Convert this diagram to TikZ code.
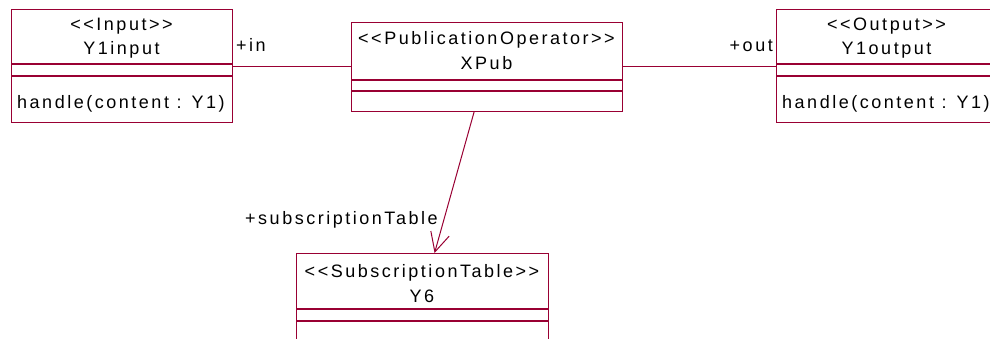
\documentclass[tikz,border=0pt]{standalone}
\usepackage{fontspec}
\setmainfont{Liberation Sans}
\newfontfamily\umlfont{Liberation Sans}[LetterSpace=14]
\usetikzlibrary{arrows.meta}
\definecolor{umlred}{RGB}{153,0,51}
\begin{document}
\begin{tikzpicture}[x=1pt,y=-1pt,
  classbox/.style={draw=umlred, line width=1.1pt, fill=white, inner sep=0pt, anchor=north west},
  sepline/.style={draw=umlred, line width=1.1pt},
  txt/.style={inner sep=0pt, font=\umlfont\fontsize{18}{22}\selectfont, text=black},
  assoc/.style={draw=umlred, line width=1pt}]
\useasboundingbox[fill=white] (0,0) rectangle (990,339);

% Y1input
\node[classbox, minimum width=221pt, minimum height=113pt] (inp) at (11,9) {};
\draw[sepline] (11,64) -- (232,64);
\draw[sepline] (11,76) -- (232,76);
\node[txt, anchor=base] (inpst) at (121.5,31) {\textless\textless Input\textgreater\textgreater};
\node[txt, anchor=base] (inpnm) at (121.5,55) {Y1input};
\node[txt, anchor=base west] (inpop) at (17,109) {handle(content : Y1)};

% XPub
\node[classbox, minimum width=271pt, minimum height=89pt] (xpub) at (351,22) {};
\draw[sepline] (351,80) -- (622,80);
\draw[sepline] (351,91) -- (622,91);
\node[txt, anchor=base] (xpubst) at (486.5,45) {\textless\textless PublicationOperator\textgreater\textgreater};
\node[txt, anchor=base] (xpubnm) at (486.5,70) {XPub};

% Y1output
\node[classbox, minimum width=221pt, minimum height=113pt] (outp) at (776,9) {};
\draw[sepline] (776,64) -- (997,64);
\draw[sepline] (776,76) -- (997,76);
\node[txt, anchor=base] (outst) at (886.5,31) {\textless\textless Output\textgreater\textgreater};
\node[txt, anchor=base] (outnm) at (886.5,55) {Y1output};
\node[txt, anchor=base west] (outop) at (782,109) {handle(content : Y1)};

% Y6
\node[classbox, minimum width=252pt, minimum height=110pt] (ysix) at (296,253) {};
\draw[sepline] (296,309) -- (548,309);
\draw[sepline] (296,321) -- (548,321);
\node[txt, anchor=base] (ysixst) at (422,277) {\textless\textless SubscriptionTable\textgreater\textgreater};
\node[txt, anchor=base] (ysixnm) at (422,302) {Y6};

% associations
\coordinate (yline) at (0,67);
\draw[assoc] (inp.east |- yline) -- (xpub.west |- yline);
\draw[assoc] (xpub.east |- yline) -- (outp.west |- yline);
\draw[assoc, -{Straight Barb[length=19pt, width=19pt, line width=1pt]}]
  ([xshift=-13pt]xpub.south) -- ([xshift=12pt]ysix.north);

% role labels
\node[txt, anchor=base west] (rin) at (236,52) {+in};
\node[txt, anchor=base east] (rout) at (773,52) {+out};
\node[txt, anchor=base west] (rsub) at (245,225) {+subscriptionTable};
\end{tikzpicture}
\end{document}
